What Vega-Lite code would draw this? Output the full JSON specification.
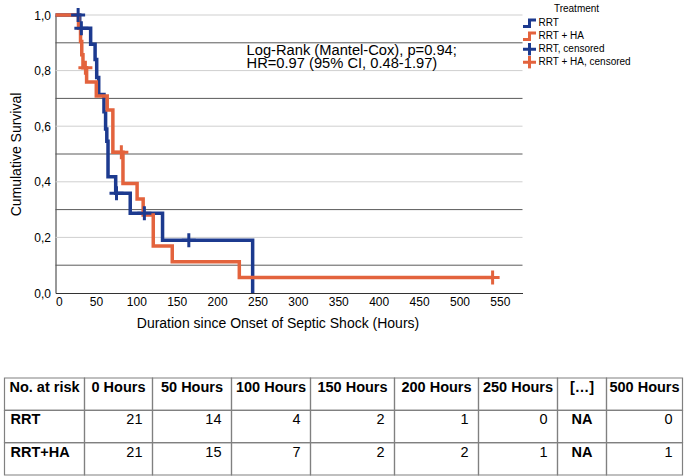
{
  "$schema": "https://vega.github.io/schema/vega-lite/v6.json",
  "padding": {"left": 3.5, "top": 2, "right": 0, "bottom": 0},
  "background": "white",
  "config": {"font": "Liberation Sans", "view": {"stroke": null}},
  "datasets": {
    "km": [
      {"series": "RRT", "t": 0, "s": 1},
      {"series": "RRT", "t": 30, "s": 0.952},
      {"series": "RRT", "t": 43.5, "s": 0.895},
      {"series": "RRT", "t": 49, "s": 0.84},
      {"series": "RRT", "t": 51, "s": 0.775},
      {"series": "RRT", "t": 53.5, "s": 0.714},
      {"series": "RRT", "t": 60, "s": 0.652},
      {"series": "RRT", "t": 62, "s": 0.59},
      {"series": "RRT", "t": 63.5, "s": 0.546},
      {"series": "RRT", "t": 65, "s": 0.418},
      {"series": "RRT", "t": 74.5, "s": 0.359},
      {"series": "RRT", "t": 92.5, "s": 0.287},
      {"series": "RRT", "t": 132.5, "s": 0.19},
      {"series": "RRT", "t": 244, "s": 0},
      {"series": "RRT + HA", "t": 0, "s": 1},
      {"series": "RRT + HA", "t": 28.5, "s": 0.952},
      {"series": "RRT + HA", "t": 31, "s": 0.905},
      {"series": "RRT + HA", "t": 32.5, "s": 0.857},
      {"series": "RRT + HA", "t": 34, "s": 0.81},
      {"series": "RRT + HA", "t": 38.5, "s": 0.759},
      {"series": "RRT + HA", "t": 50.5, "s": 0.709},
      {"series": "RRT + HA", "t": 64, "s": 0.658},
      {"series": "RRT + HA", "t": 71, "s": 0.506},
      {"series": "RRT + HA", "t": 83.5, "s": 0.394},
      {"series": "RRT + HA", "t": 101, "s": 0.338},
      {"series": "RRT + HA", "t": 108.5, "s": 0.281},
      {"series": "RRT + HA", "t": 121, "s": 0.169},
      {"series": "RRT + HA", "t": 144.5, "s": 0.112},
      {"series": "RRT + HA", "t": 227.5, "s": 0.056},
      {"series": "RRT + HA", "t": 541, "s": 0.056}
    ],
    "censor": [
      {"series": "RRT, censored", "t": 28, "s": 1},
      {"series": "RRT, censored", "t": 32, "s": 0.952},
      {"series": "RRT, censored", "t": 75.5, "s": 0.359},
      {"series": "RRT, censored", "t": 110, "s": 0.287},
      {"series": "RRT, censored", "t": 165, "s": 0.19},
      {"series": "RRT + HA, censored", "t": 37, "s": 0.81},
      {"series": "RRT + HA, censored", "t": 81.5, "s": 0.506},
      {"series": "RRT + HA, censored", "t": 541, "s": 0.056}
    ],
    "grid": [
      {"s": 0.1}, {"s": 0.2}, {"s": 0.3}, {"s": 0.4}, {"s": 0.5},
      {"s": 0.6}, {"s": 0.7}, {"s": 0.8}, {"s": 0.9}, {"s": 1.0}
    ],
    "table": [
      {"col": "No. at risk", "row": "header", "text": "No. at risk"},
      {"col": "No. at risk", "row": "RRT", "text": "RRT"},
      {"col": "No. at risk", "row": "RRT+HA", "text": "RRT+HA"},
      {"col": "0 Hours", "row": "header", "text": "0 Hours"},
      {"col": "0 Hours", "row": "RRT", "text": "21"},
      {"col": "0 Hours", "row": "RRT+HA", "text": "21"},
      {"col": "50 Hours", "row": "header", "text": "50 Hours"},
      {"col": "50 Hours", "row": "RRT", "text": "14"},
      {"col": "50 Hours", "row": "RRT+HA", "text": "15"},
      {"col": "100 Hours", "row": "header", "text": "100 Hours"},
      {"col": "100 Hours", "row": "RRT", "text": "4"},
      {"col": "100 Hours", "row": "RRT+HA", "text": "7"},
      {"col": "150 Hours", "row": "header", "text": "150 Hours"},
      {"col": "150 Hours", "row": "RRT", "text": "2"},
      {"col": "150 Hours", "row": "RRT+HA", "text": "2"},
      {"col": "200 Hours", "row": "header", "text": "200 Hours"},
      {"col": "200 Hours", "row": "RRT", "text": "1"},
      {"col": "200 Hours", "row": "RRT+HA", "text": "2"},
      {"col": "250 Hours", "row": "header", "text": "250 Hours"},
      {"col": "250 Hours", "row": "RRT", "text": "0"},
      {"col": "250 Hours", "row": "RRT+HA", "text": "1"},
      {"col": "[…]", "row": "header", "text": "[…]"},
      {"col": "[…]", "row": "RRT", "text": "NA"},
      {"col": "[…]", "row": "RRT+HA", "text": "NA"},
      {"col": "500 Hours", "row": "header", "text": "500 Hours"},
      {"col": "500 Hours", "row": "RRT", "text": "0"},
      {"col": "500 Hours", "row": "RRT+HA", "text": "1"}
    ]
  },
  "spacing": 47,
  "vconcat": [
    {
      "spacing": 0,
      "bounds": "flush",
      "hconcat": [
        {
          "width": 51,
          "height": 278,
          "data": {"name": "grid"},
          "mark": {"type": "rule", "opacity": 0},
          "encoding": {
            "y": {
              "field": "s", "type": "quantitative",
              "scale": {"domain": [0, 1], "nice": false},
              "axis": {
                "offset": -51,
                "values": [0, 0.2, 0.4, 0.6, 0.8, 1],
                "labelExpr": "replace(format(datum.value, '.1f'), '.', ',')",
                "grid": false, "ticks": false, "tickSize": 0, "domain": false,
                "labelPadding": 5, "labelFontSize": 12, "labelColor": "#000", "labelOverlap": false,
                "titleFontSize": 14, "titleFontWeight": "normal", "titleColor": "#000", "titlePadding": 10.5
              },
              "title": "Cumulative Survival"
            }
          }
        },
        {
          "width": 467,
          "height": 278,
          "layer": [
            {
              "data": {"name": "grid"},
              "mark": {"type": "rule", "strokeWidth": 1},
              "encoding": {
                "y": {"field": "s", "type": "quantitative", "scale": {"domain": [0, 1], "nice": false}, "axis": {"labels": false, "ticks": false, "grid": false, "domainColor": "#333", "title": null}},
                "color": {"condition": {"test": "round(datum.s*10) % 2 === 1", "value": "#5a5a5a"}, "value": "#cfcfcf"}
              }
            },
            {
              "data": {"name": "km"},
              "mark": {"type": "line", "interpolate": "step-after", "strokeWidth": 3.5, "strokeJoin": "miter", "strokeCap": "butt"},
              "encoding": {
                "x": {
                  "field": "t", "type": "quantitative",
                  "scale": {"domain": [0, 578], "nice": false},
                  "axis": {
                    "values": [0, 50, 100, 150, 200, 250, 300, 350, 400, 450, 500, 550],
                    "format": "d", "grid": false, "ticks": false, "tickSize": 0,
                    "labelPadding": 3, "labelFontSize": 12, "labelColor": "#000",
                    "domainColor": "#333", "titleFontSize": 14, "titleFontWeight": "normal",
                    "titleColor": "#000", "titlePadding": 9, "titleX": 222
                  },
                  "title": "Duration since Onset of Septic Shock (Hours)"
                },
                "y": {"field": "s", "type": "quantitative"},
                "color": {
                  "field": "series", "type": "nominal",
                  "scale": {"domain": ["RRT", "RRT + HA", "RRT, censored", "RRT + HA, censored"], "range": ["#1c3a8f", "#e3633d", "#1c3a8f", "#e3633d"]},
                  "legend": {
                    "title": "Treatment", "orient": "none", "legendX": 517, "legendY": -11,
                    "padding": 0, "titleFontSize": 10, "titleFontWeight": "normal", "titleColor": "#000",
                    "titleAnchor": "middle", "titlePadding": 3,
                    "labelFontSize": 10, "labelColor": "#000", "labelOffset": 1,
                    "symbolSize": 169, "symbolStrokeWidth": 3, "clipHeight": 12.5, "rowPadding": 0
                  }
                }
              }
            },
            {
              "data": {"name": "censor"},
              "mark": {"type": "point", "filled": false, "strokeWidth": 3, "size": 196, "opacity": 1},
              "encoding": {
                "x": {"field": "t", "type": "quantitative"},
                "y": {"field": "s", "type": "quantitative"},
                "color": {
                  "field": "series", "type": "nominal",
                  "legend": {
                    "title": "Treatment", "orient": "none", "legendX": 517, "legendY": -11,
                    "padding": 0, "titleFontSize": 10, "titleFontWeight": "normal", "titleColor": "#000",
                    "titleAnchor": "middle", "titlePadding": 3,
                    "labelFontSize": 10, "labelColor": "#000", "labelOffset": 1,
                    "symbolSize": 169, "symbolStrokeWidth": 3, "clipHeight": 12.5, "rowPadding": 0
                  }
                },
                "shape": {
                  "field": "series", "type": "nominal",
                  "scale": {
                    "domain": ["RRT", "RRT + HA", "RRT, censored", "RRT + HA, censored"],
                    "range": ["M-1,0.5L0,0.5L0,-0.5L1,-0.5", "M-1,0.5L0,0.5L0,-0.5L1,-0.5", "M-1,0L1,0M0,-1L0,1", "M-1,0L1,0M0,-1L0,1"]
                  },
                  "legend": {
                    "title": "Treatment", "orient": "none", "legendX": 517, "legendY": -11,
                    "padding": 0, "titleFontSize": 10, "titleFontWeight": "normal", "titleColor": "#000",
                    "titleAnchor": "middle", "titlePadding": 3,
                    "labelFontSize": 10, "labelColor": "#000", "labelOffset": 1,
                    "symbolSize": 169, "symbolStrokeWidth": 3, "clipHeight": 12.5, "rowPadding": 0
                  }
                }
              }
            },
            {
              "data": {"values": [{"note": "Log-Rank"}]},
              "mark": {"type": "text", "align": "left", "baseline": "alphabetic", "fontSize": 14.7, "lineHeight": 13, "color": "#000"},
              "encoding": {
                "x": {"datum": 236.5, "type": "quantitative"},
                "y": {"datum": 0.856, "type": "quantitative"},
                "text": {"value": ["Log-Rank (Mantel-Cox), p=0.94;", "HR=0.97 (95% CI, 0.48-1.97)"]}
              }
            }
          ]
        }
      ]
    },
    {
      "spacing": 0,
      "bounds": "flush",
      "hconcat": [
        {
          "width": 80, "height": 97,
          "data": {"name": "table"},
          "transform": [{"filter": {"field": "col", "equal": "No. at risk"}}],
          "encoding": {"y": {"field": "row", "type": "nominal", "scale": {"type": "band", "domain": ["header", "RRT", "RRT+HA"], "paddingInner": 0, "paddingOuter": 0}, "axis": null}},
          "layer": [
            {"mark": {"type": "rect", "fill": "transparent", "stroke": "#808080", "strokeWidth": 1.2}},
            {"transform": [{"filter": {"field": "row", "equal": "header"}}], "mark": {"type": "text", "fontSize": 14.5, "fontWeight": "bold", "align": "center", "baseline": "alphabetic", "dy": 14, "color": "#000"}, "encoding": {"y": {"field": "row", "type": "nominal", "bandPosition": 0}, "text": {"field": "text"}}},
            {"transform": [{"filter": "datum.row !== 'header'"}], "mark": {"type": "text", "fontSize": 14.5, "fontWeight": "bold", "align": "left", "x": 0, "dx": 6, "baseline": "alphabetic", "dy": 14, "color": "#000"}, "encoding": {"y": {"field": "row", "type": "nominal", "bandPosition": 0}, "text": {"field": "text"}}}
          ]
        },
        {
          "width": 68, "height": 97,
          "data": {"name": "table"},
          "transform": [{"filter": {"field": "col", "equal": "0 Hours"}}],
          "encoding": {"y": {"field": "row", "type": "nominal", "scale": {"type": "band", "domain": ["header", "RRT", "RRT+HA"], "paddingInner": 0, "paddingOuter": 0}, "axis": null}},
          "layer": [
            {"mark": {"type": "rect", "fill": "transparent", "stroke": "#808080", "strokeWidth": 1.2}},
            {"transform": [{"filter": {"field": "row", "equal": "header"}}], "mark": {"type": "text", "fontSize": 14.5, "fontWeight": "bold", "align": "center", "baseline": "alphabetic", "dy": 14, "color": "#000"}, "encoding": {"y": {"field": "row", "type": "nominal", "bandPosition": 0}, "text": {"field": "text"}}},
            {"transform": [{"filter": "datum.row !== 'header'"}], "mark": {"type": "text", "fontSize": 14.5, "align": "right", "x": "width", "dx": -10, "baseline": "alphabetic", "dy": 14, "color": "#000"}, "encoding": {"y": {"field": "row", "type": "nominal", "bandPosition": 0}, "text": {"field": "text"}}}
          ]
        },
        {
          "width": 79, "height": 97,
          "data": {"name": "table"},
          "transform": [{"filter": {"field": "col", "equal": "50 Hours"}}],
          "encoding": {"y": {"field": "row", "type": "nominal", "scale": {"type": "band", "domain": ["header", "RRT", "RRT+HA"], "paddingInner": 0, "paddingOuter": 0}, "axis": null}},
          "layer": [
            {"mark": {"type": "rect", "fill": "transparent", "stroke": "#808080", "strokeWidth": 1.2}},
            {"transform": [{"filter": {"field": "row", "equal": "header"}}], "mark": {"type": "text", "fontSize": 14.5, "fontWeight": "bold", "align": "center", "baseline": "alphabetic", "dy": 14, "color": "#000"}, "encoding": {"y": {"field": "row", "type": "nominal", "bandPosition": 0}, "text": {"field": "text"}}},
            {"transform": [{"filter": "datum.row !== 'header'"}], "mark": {"type": "text", "fontSize": 14.5, "align": "right", "x": "width", "dx": -10, "baseline": "alphabetic", "dy": 14, "color": "#000"}, "encoding": {"y": {"field": "row", "type": "nominal", "bandPosition": 0}, "text": {"field": "text"}}}
          ]
        },
        {
          "width": 79, "height": 97,
          "data": {"name": "table"},
          "transform": [{"filter": {"field": "col", "equal": "100 Hours"}}],
          "encoding": {"y": {"field": "row", "type": "nominal", "scale": {"type": "band", "domain": ["header", "RRT", "RRT+HA"], "paddingInner": 0, "paddingOuter": 0}, "axis": null}},
          "layer": [
            {"mark": {"type": "rect", "fill": "transparent", "stroke": "#808080", "strokeWidth": 1.2}},
            {"transform": [{"filter": {"field": "row", "equal": "header"}}], "mark": {"type": "text", "fontSize": 14.5, "fontWeight": "bold", "align": "center", "baseline": "alphabetic", "dy": 14, "color": "#000"}, "encoding": {"y": {"field": "row", "type": "nominal", "bandPosition": 0}, "text": {"field": "text"}}},
            {"transform": [{"filter": "datum.row !== 'header'"}], "mark": {"type": "text", "fontSize": 14.5, "align": "right", "x": "width", "dx": -10, "baseline": "alphabetic", "dy": 14, "color": "#000"}, "encoding": {"y": {"field": "row", "type": "nominal", "bandPosition": 0}, "text": {"field": "text"}}}
          ]
        },
        {
          "width": 84, "height": 97,
          "data": {"name": "table"},
          "transform": [{"filter": {"field": "col", "equal": "150 Hours"}}],
          "encoding": {"y": {"field": "row", "type": "nominal", "scale": {"type": "band", "domain": ["header", "RRT", "RRT+HA"], "paddingInner": 0, "paddingOuter": 0}, "axis": null}},
          "layer": [
            {"mark": {"type": "rect", "fill": "transparent", "stroke": "#808080", "strokeWidth": 1.2}},
            {"transform": [{"filter": {"field": "row", "equal": "header"}}], "mark": {"type": "text", "fontSize": 14.5, "fontWeight": "bold", "align": "center", "baseline": "alphabetic", "dy": 14, "color": "#000"}, "encoding": {"y": {"field": "row", "type": "nominal", "bandPosition": 0}, "text": {"field": "text"}}},
            {"transform": [{"filter": "datum.row !== 'header'"}], "mark": {"type": "text", "fontSize": 14.5, "align": "right", "x": "width", "dx": -10, "baseline": "alphabetic", "dy": 14, "color": "#000"}, "encoding": {"y": {"field": "row", "type": "nominal", "bandPosition": 0}, "text": {"field": "text"}}}
          ]
        },
        {
          "width": 84, "height": 97,
          "data": {"name": "table"},
          "transform": [{"filter": {"field": "col", "equal": "200 Hours"}}],
          "encoding": {"y": {"field": "row", "type": "nominal", "scale": {"type": "band", "domain": ["header", "RRT", "RRT+HA"], "paddingInner": 0, "paddingOuter": 0}, "axis": null}},
          "layer": [
            {"mark": {"type": "rect", "fill": "transparent", "stroke": "#808080", "strokeWidth": 1.2}},
            {"transform": [{"filter": {"field": "row", "equal": "header"}}], "mark": {"type": "text", "fontSize": 14.5, "fontWeight": "bold", "align": "center", "baseline": "alphabetic", "dy": 14, "color": "#000"}, "encoding": {"y": {"field": "row", "type": "nominal", "bandPosition": 0}, "text": {"field": "text"}}},
            {"transform": [{"filter": "datum.row !== 'header'"}], "mark": {"type": "text", "fontSize": 14.5, "align": "right", "x": "width", "dx": -10, "baseline": "alphabetic", "dy": 14, "color": "#000"}, "encoding": {"y": {"field": "row", "type": "nominal", "bandPosition": 0}, "text": {"field": "text"}}}
          ]
        },
        {
          "width": 79, "height": 97,
          "data": {"name": "table"},
          "transform": [{"filter": {"field": "col", "equal": "250 Hours"}}],
          "encoding": {"y": {"field": "row", "type": "nominal", "scale": {"type": "band", "domain": ["header", "RRT", "RRT+HA"], "paddingInner": 0, "paddingOuter": 0}, "axis": null}},
          "layer": [
            {"mark": {"type": "rect", "fill": "transparent", "stroke": "#808080", "strokeWidth": 1.2}},
            {"transform": [{"filter": {"field": "row", "equal": "header"}}], "mark": {"type": "text", "fontSize": 14.5, "fontWeight": "bold", "align": "center", "baseline": "alphabetic", "dy": 14, "color": "#000"}, "encoding": {"y": {"field": "row", "type": "nominal", "bandPosition": 0}, "text": {"field": "text"}}},
            {"transform": [{"filter": "datum.row !== 'header'"}], "mark": {"type": "text", "fontSize": 14.5, "align": "right", "x": "width", "dx": -10, "baseline": "alphabetic", "dy": 14, "color": "#000"}, "encoding": {"y": {"field": "row", "type": "nominal", "bandPosition": 0}, "text": {"field": "text"}}}
          ]
        },
        {
          "width": 49, "height": 97,
          "data": {"name": "table"},
          "transform": [{"filter": {"field": "col", "equal": "[…]"}}],
          "encoding": {"y": {"field": "row", "type": "nominal", "scale": {"type": "band", "domain": ["header", "RRT", "RRT+HA"], "paddingInner": 0, "paddingOuter": 0}, "axis": null}},
          "layer": [
            {"mark": {"type": "rect", "fill": "transparent", "stroke": "#808080", "strokeWidth": 1.2}},
            {"mark": {"type": "text", "fontSize": 14.5, "fontWeight": "bold", "align": "center", "baseline": "alphabetic", "dy": 14, "color": "#000"}, "encoding": {"y": {"field": "row", "type": "nominal", "bandPosition": 0}, "text": {"field": "text"}}}
          ]
        },
        {
          "width": 76, "height": 97,
          "data": {"name": "table"},
          "transform": [{"filter": {"field": "col", "equal": "500 Hours"}}],
          "encoding": {"y": {"field": "row", "type": "nominal", "scale": {"type": "band", "domain": ["header", "RRT", "RRT+HA"], "paddingInner": 0, "paddingOuter": 0}, "axis": null}},
          "layer": [
            {"mark": {"type": "rect", "fill": "transparent", "stroke": "#808080", "strokeWidth": 1.2}},
            {"transform": [{"filter": {"field": "row", "equal": "header"}}], "mark": {"type": "text", "fontSize": 14.5, "fontWeight": "bold", "align": "center", "baseline": "alphabetic", "dy": 14, "color": "#000"}, "encoding": {"y": {"field": "row", "type": "nominal", "bandPosition": 0}, "text": {"field": "text"}}},
            {"transform": [{"filter": "datum.row !== 'header'"}], "mark": {"type": "text", "fontSize": 14.5, "align": "right", "x": "width", "dx": -10, "baseline": "alphabetic", "dy": 14, "color": "#000"}, "encoding": {"y": {"field": "row", "type": "nominal", "bandPosition": 0}, "text": {"field": "text"}}}
          ]
        }
      ]
    }
  ]
}
